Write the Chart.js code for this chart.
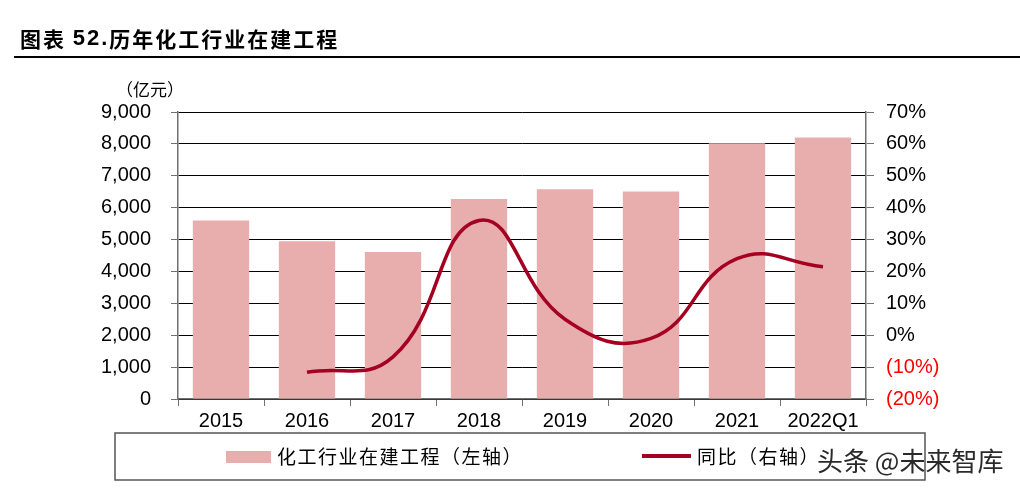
<html>
<head>
<meta http-equiv="Content-Type" content="text/html; charset=utf-8"/>
<title>历年化工行业在建工程</title>
<script src="https://cdn.jsdelivr.net/npm/chart.js@4.4.0/dist/chart.umd.min.js"></script>
<style>
  body { margin: 0; background: #fff; }
  #grafica { display: block; }
</style>
</head>
<body>
<canvas id="grafica" width="1020" height="490"></canvas>
<script>
// datos
const categorias = ['2015', '2016', '2017', '2018', '2019', '2020', '2021', '2022Q1'];
const valoresObra = [5600, 4950, 4610, 6270, 6580, 6510, 8020, 8200];   // 亿元
const valoresYoY = [null, -11.6, -6.8, 36.0, 5.0, -1.0, 24.0, 21.5];    // %
const ticksIzq = { min: 0, max: 9000, step: 1000 };
const ticksDer = { min: -20, max: 70, step: 10 };

const colorBarra = '#e8adad';
const colorLinea = '#a50021';
const colorEje = '#707070';
const fuenteCJK = '"Noto Sans CJK SC", "Noto Sans", sans-serif';

Chart.defaults.font.family = '"Liberation Sans", Arial, sans-serif';
Chart.defaults.color = '#000';

// titulo, unidad, leyenda y marca de agua
const decorado = {
  id: 'decorado',
  afterDraw(chart) {
    const ctx = chart.ctx;
    ctx.save();

    // titulo
    ctx.fillStyle = '#000';
    ctx.textBaseline = 'middle';
    ctx.textAlign = 'left';
    ctx.letterSpacing = '2px';
    let x = 20;
    ctx.font = 'bold 21px ' + fuenteCJK;
    ctx.fillText('图表 ', x, 39);
    x += ctx.measureText('图表 ').width;
    ctx.font = 'bold 22px "Liberation Sans", Arial';
    ctx.fillText('52.', x, 39);
    x += ctx.measureText('52.').width;
    ctx.font = 'bold 21px ' + fuenteCJK;
    ctx.fillText('历年化工行业在建工程', x, 39);
    ctx.letterSpacing = '0px';

    ctx.strokeStyle = '#000';
    ctx.lineWidth = 2;
    ctx.beginPath();
    ctx.moveTo(14, 57);
    ctx.lineTo(1020, 57);
    ctx.stroke();

    // unidad
    ctx.font = '17px ' + fuenteCJK;
    ctx.fillText('（亿元）', 116, 90);

    // leyenda
    ctx.strokeStyle = '#555';
    ctx.lineWidth = 1.5;
    ctx.strokeRect(115, 433, 810, 47);

    const barras = chart.data.datasets[1];
    const linea = chart.data.datasets[0];
    ctx.font = '19px ' + fuenteCJK;
    ctx.letterSpacing = '1.5px';
    ctx.fillStyle = barras.backgroundColor;
    ctx.fillRect(226, 451, 45, 12);
    ctx.fillStyle = '#000';
    ctx.fillText(barras.label, 277, 457);

    ctx.strokeStyle = linea.borderColor;
    ctx.lineWidth = 4;
    ctx.beginPath();
    ctx.moveTo(642, 456);
    ctx.lineTo(691, 456);
    ctx.stroke();
    ctx.fillText(linea.label, 697, 457);
    ctx.letterSpacing = '0px';

    // marca de agua
    ctx.font = '26px ' + fuenteCJK;
    ctx.fillStyle = '#2a2a2a';
    ctx.fillText('头条 @未来智库', 817, 461);

    ctx.restore();
  }
};

const contenedor = document.getElementById('grafica');

const grafica = new Chart(contenedor, {
  type: 'bar',
  data: {
    labels: categorias,
    datasets: [
      {
        type: 'line',
        label: '同比（右轴）',
        data: valoresYoY,
        yAxisID: 'yDer',
        borderColor: colorLinea,
        backgroundColor: colorLinea,
        borderWidth: 3.5,
        pointRadius: 0,
        tension: 0.45,
        order: 0
      },
      {
        type: 'bar',
        label: '化工行业在建工程（左轴）',
        data: valoresObra,
        yAxisID: 'yIzq',
        backgroundColor: colorBarra,
        borderWidth: 0,
        barPercentage: 0.655,
        categoryPercentage: 1.0,
        order: 1
      }
    ]
  },
  options: {
    responsive: false,
    animation: false,
    layout: { padding: { top: 112, bottom: 51, left: 0, right: 0 } },
    plugins: {
      legend: { display: false },
      tooltip: { enabled: false }
    },
    scales: {
      x: {
        afterFit: (s) => { s.height = 40; },
        grid: {
          drawOnChartArea: false,
          drawTicks: true,
          tickLength: 7,
          color: colorEje,
          offset: true
        },
        border: { color: colorEje, width: 1.5 },
        ticks: { padding: 3, font: { size: 20 }, color: '#000' }
      },
      yIzq: {
        position: 'left',
        min: ticksIzq.min,
        max: ticksIzq.max,
        afterFit: (s) => { s.width = 178; },
        grid: {
          color: '#000',
          lineWidth: 1,
          borderDash: [1, 1],
          tickLength: 7,
          tickColor: colorEje,
          tickBorderDash: []
        },
        border: { color: colorEje, width: 1.5 },
        ticks: {
          stepSize: ticksIzq.step,
          padding: 20,
          font: { size: 20 },
          color: '#000',
          callback: (v) => v.toLocaleString('en-US')
        }
      },
      yDer: {
        position: 'right',
        min: ticksDer.min,
        max: ticksDer.max,
        afterFit: (s) => { s.width = 154; },
        grid: {
          drawOnChartArea: false,
          tickLength: 8,
          color: colorEje
        },
        border: { color: colorEje, width: 1.5 },
        ticks: {
          stepSize: ticksDer.step,
          padding: 12,
          font: { size: 20 },
          color: (c) => (c.tick && c.tick.value < 0 ? '#ff0000' : '#000'),
          callback: (v) => (v < 0 ? '(' + Math.abs(v) + '%)' : v + '%')
        }
      }
    }
  },
  plugins: [decorado]
});
</script>
</body>
</html>
